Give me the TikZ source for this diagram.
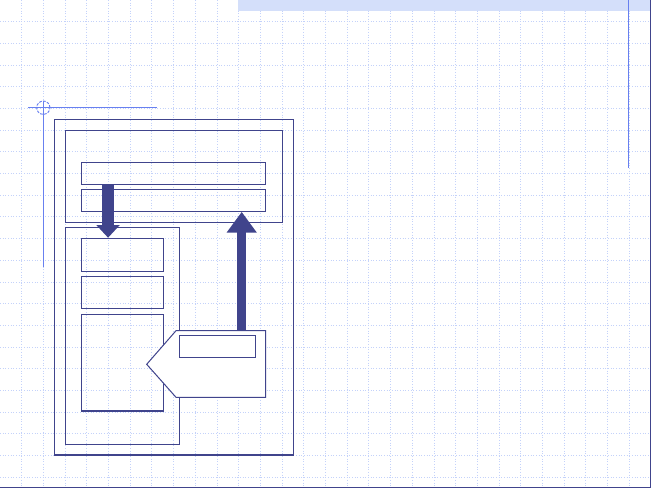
\documentclass[tikz,border=0pt]{standalone}
\usetikzlibrary{arrows.meta,fit}
\definecolor{navy}{RGB}{64,68,140}
\definecolor{gridblue}{RGB}{196,210,250}
\definecolor{midblue}{RGB}{104,128,240}
\definecolor{bandblue}{RGB}{212,223,250}
\begin{document}
\begin{tikzpicture}[x=0.75pt,y=-0.75pt,
  gridline/.style={gridblue, line width=0.75pt, dash pattern=on 0.75pt off 1.25pt},
  box/.style={draw=navy, line width=0.85pt, inner sep=0pt},
  guide/.style={midblue, line width=0.85pt},
  blockarrow/.style={navy, line width=#1}]
\useasboundingbox (0,0) rectangle (651,488);
\fill[white] (0,0) rectangle (651,488);
% grid
\foreach \i in {1,...,29} \draw[gridline] (\i*21.7,0) -- (\i*21.7,488);
\foreach \j in {1,...,22} \draw[gridline] (0,\j*21.7) -- (651,\j*21.7);
% top band
\fill[bandblue] (238,0) rectangle (651,11);
% guides
\draw[guide] (628.3,0) -- (628.3,168.3);
\draw[guide] (28.3,107.7) -- (156.7,107.7);
\draw[guide] (43.3,101) -- (43.3,266.7);
\draw[guide, line width=0.7pt, dash pattern=on 2pt off 1pt] (43.3,107.7) circle[radius=5pt];
% frame edges
\draw[navy, line width=1.1pt] (650.3,0) -- (650.3,488);
\draw[navy, line width=1.1pt] (0,487.3) -- (651,487.3);
% diagram boxes
\node[box, fit={(54.3,119.3) (293.3,455)}] (outer) {};
\node[box, fit={(65.3,130.7) (282.3,222.3)}] (top) {};
\node[box, fit={(81.3,162.3) (265.7,184.3)}] (bar1) {};
\node[box, fit={(81.3,189.3) (265.7,211.3)}] (bar2) {};
\node[box, fit={(65.3,227.3) (179.3,444.3)}] (left) {};
\node[box, fit={(81.3,238.3) (163.3,271.7)}] (rA) {};
\node[box, fit={(81.3,276.7) (163.3,308.3)}] (rB) {};
\node[box, fit={(81.3,314.3) (163.3,411)}] (rC) {};
% tag shape
\draw[navy, line width=0.75pt, fill=white] (176,330.7) -- (265.7,330.7) -- (265.7,397.3) -- (176,397.3) -- (146.7,364.3) -- cycle;
\coordinate (tagtop) at (241.7,330.7);
\node[box, fit={(179.3,335.3) (255.7,357.3)}] (tagbox) {};
% block arrows
\draw[blockarrow=9.2pt, -{Triangle[length=9.5pt,width=17pt]}]
  ([xshift=20.5pt]bar1.south west) -- ([xshift=20.5pt]rA.north west);
\draw[blockarrow=6.75pt, -{Triangle[length=15.5pt,width=21.5pt]}]
  (tagtop) -- (tagtop |- bar2.south);
\end{tikzpicture}
\end{document}
